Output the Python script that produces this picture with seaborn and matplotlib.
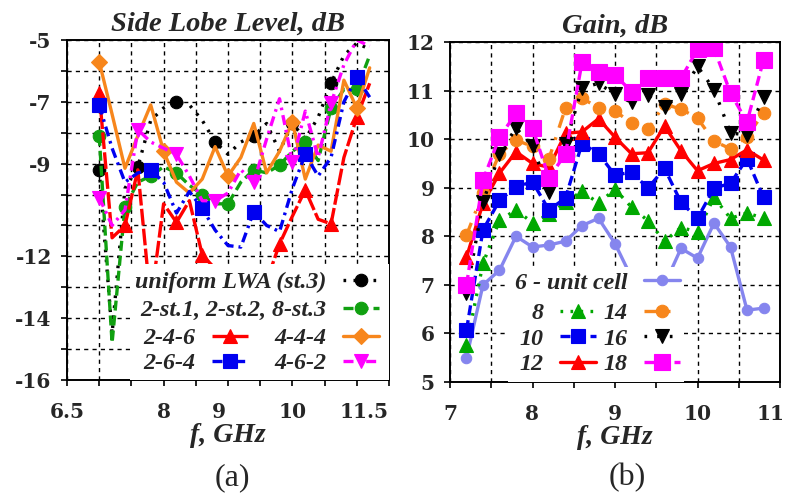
import numpy as np
import pandas as pd
import matplotlib
matplotlib.use("Agg")
import matplotlib.pyplot as plt
import matplotlib.transforms as mtrans
from matplotlib.patches import Rectangle
import seaborn as sns

# ---------------- data : (a) side lobe level ----------------
freq_a = [7.0, 7.2, 7.4, 7.6, 7.8, 8.0, 8.2, 8.4, 8.6, 8.8, 9.0,
          9.2, 9.4, 9.6, 9.8, 10.0, 10.2, 10.4, 10.6, 10.8, 11.0, 11.2]
sll_uniform = [-9.2, -14.5, -9.8, -9.1, -7.6, -7.2, -7.0, -7.1, -7.6, -8.3, -8.7,
               -8.3, -8.1, -7.7, -8.6, -7.7, -8.2, -7.5, -6.4, -5.5, -5.1, -5.3]
sll_2st = [-8.1, -14.8, -10.4, -9.6, -9.4, -9.1, -9.3, -9.7, -10.0, -10.3, -10.3,
           -9.6, -9.2, -9.3, -9.05, -8.6, -8.3, -8.9, -7.2, -6.6, -6.6, -5.5]
sll_246 = [-6.7, -11.4, -11.0, -9.2, -13.5, -10.3, -10.9, -10.2, -11.95, -12.4, -12.9,
           -12.9, -12.8, -12.8, -11.6, -10.7, -9.85, -10.8, -10.95, -8.8, -7.5, -6.4]
sll_444 = [-5.7, -7.4, -9.15, -8.1, -7.1, -8.6, -9.6, -9.95, -9.5, -8.45, -9.4,
           -8.8, -7.7, -9.3, -8.6, -7.65, -9.5, -8.4, -8.6, -6.3, -7.2, -5.9]
sll_264 = [-7.1, -8.5, -9.6, -9.3, -9.2, -9.6, -10.6, -9.9, -10.45, -11.15, -11.65,
           -11.7, -10.55, -11.0, -11.2, -9.8, -8.7, -9.4, -8.8, -7.0, -6.2, -6.85]
sll_462 = [-10.1, -11.0, -10.5, -7.9, -8.3, -8.5, -8.7, -9.4, -10.2, -10.2, -9.95,
           -9.2, -9.6, -8.2, -6.9, -8.95, -7.3, -8.8, -7.05, -5.8, -5.0, -5.2]
labels_a = ["uniform LWA (st.3)", "2-st.1, 2-st.2, 8-st.3", "2-4-6", "4-4-4", "2-6-4", "4-6-2"]

# ---------------- data : (b) gain ----------------
freq_b = [7.2, 7.4, 7.6, 7.8, 8.0, 8.2, 8.4, 8.6, 8.8, 9.0,
          9.2, 9.4, 9.6, 9.8, 10.0, 10.2, 10.4, 10.6, 10.8]
gain_6 = [5.5, 7.0, 7.3, 8.0, 7.78, 7.82, 7.9, 8.22, 8.37, 7.85,
          7.15, 6.9, 7.0, 7.75, 7.55, 8.27, 7.78, 6.48, 6.52]
gain_8 = [5.76, 7.44, 8.33, 8.54, 8.28, 8.45, 8.7, 8.93, 8.68, 8.97,
          8.6, 8.32, 7.9, 8.18, 8.09, 8.8, 8.37, 8.48, 8.37]
gain_10 = [6.07, 8.13, 8.74, 9.02, 9.12, 8.54, 8.79, 9.91, 9.7, 9.26,
           9.32, 8.99, 9.4, 8.7, 8.37, 8.99, 9.09, 9.6, 8.8]
gain_12 = [7.57, 8.68, 9.3, 9.74, 9.5, 9.42, 10.12, 10.15, 10.42, 10.04,
           9.7, 9.72, 10.27, 9.76, 9.35, 9.5, 9.58, 9.78, 9.57]
gain_14 = [8.02, 8.9, 9.7, 9.98, 9.85, 9.6, 10.64, 10.84, 10.65, 10.58,
           10.33, 10.2, 10.72, 10.62, 10.43, 9.96, 9.8, 10.05, 10.54]
gain_16 = [6.83, 8.7, 9.7, 10.23, 9.86, 8.92, 9.9, 11.05, 11.15, 10.92,
           10.76, 10.9, 10.66, 10.93, 11.5, 11.02, 10.13, 10.08, 10.87]
gain_18 = [7.0, 9.16, 10.04, 10.53, 10.23, 9.2, 9.7, 11.58, 11.38, 11.32,
           10.98, 11.25, 11.25, 11.25, 11.85, 11.87, 10.95, 10.35, 11.63]
labels_b = ["6 - unit cell", "8", "10", "12", "14", "16", "18"]

# ---------------- style ----------------
sns.set_theme(style="ticks")
plt.rcParams['font.family'] = ['Liberation Serif', 'DejaVu Serif']

fig = plt.figure(figsize=(7.87, 5.0), dpi=100)
axA = fig.add_axes([67 / 787, 1 - 380 / 500, 322 / 787, 340 / 500])
axB = fig.add_axes([450 / 787, 1 - 382 / 500, 330 / 787, 340 / 500])


def draw(ax, x, y, color, ls, marker, ms, markevery, label, lw=2.4):
    sns.lineplot(x=x, y=y, ax=ax, color=color, linestyle=ls, marker=marker,
                 markersize=ms, markevery=markevery, markeredgecolor=color,
                 markerfacecolor=color, markeredgewidth=0.8, linewidth=lw,
                 legend=False, sort=False, estimator=None, errorbar=None)
    line = ax.lines[-1]
    line.set_label(label)
    return line


BLACK = "#000000"
GREEN = "#10a010"
RED = "#ff0000"
ORANGE = "#f7861c"
BLUE = "#0000f0"
MAGENTA = "#ff00ff"
LAV = "#8585ee"

# (a)
hA = []
hA.append(draw(axA, freq_a, sll_uniform, BLACK, (0, (0.8, 2.2)), 'o', 9, slice(0, 19, 3), labels_a[0]))
hA.append(draw(axA, freq_a, sll_2st, GREEN, (0, (3, 1.5)), 'o', 9, slice(0, 21, 2), labels_a[1]))
hA.append(draw(axA, freq_a, sll_246, RED, (0, (5, 1)), '^', 9.5, slice(0, 21, 2), labels_a[2]))
hA.append(draw(axA, freq_a, sll_444, ORANGE, '-', 'D', 8, slice(0, 21, 5), labels_a[3]))
hA.append(draw(axA, freq_a, sll_264, BLUE, (0, (3, 1.5, 0.8, 1.5)), 's', 9.5, slice(0, 21, 4), labels_a[4]))
hA.append(draw(axA, freq_a, sll_462, MAGENTA, (0, (3, 1.5, 0.8, 1.5)), 'v', 10, slice(0, 19, 3), labels_a[5]))

# (b)
hB = []
hB.append(draw(axB, freq_b, gain_6, LAV, '-', 'o', 7.5, 1, labels_b[0]))
hB.append(draw(axB, freq_b, gain_8, "#00a800", (0, (0.8, 2.2)), '^', 10, 1, labels_b[1]))
hB.append(draw(axB, freq_b, gain_10, BLUE, (0, (3, 1.5)), 's', 10, 1, labels_b[2]))
hB.append(draw(axB, freq_b, gain_12, RED, '-', '^', 10, 1, labels_b[3]))
hB.append(draw(axB, freq_b, gain_14, ORANGE, (0, (4, 3, 0.8, 3)), 'o', 9, 1, labels_b[4]))
hB.append(draw(axB, freq_b, gain_16, BLACK, (0, (0.8, 3)), 'v', 10, 1, labels_b[5]))
hB.append(draw(axB, freq_b, gain_18, MAGENTA, (0, (3, 1.5)), 's', 11, 1, labels_b[6]))

TICK = dict(fontsize=14.5, fontweight='bold', fontfamily='DejaVu Serif')
BI = dict(fontweight='bold', fontstyle='italic')

# axes (a)
axA.set_xlim(6.5, 11.5)
axA.set_ylim(-16, -5)
xt_a = np.arange(6.5, 11.51, 0.5)
xl_a = {6.5: '6.5', 8.0: '8', 9.0: '9', 10.0: '10', 11.5: '11.5'}
axA.set_xticks(xt_a, labels=[xl_a.get(round(v, 1), '') for v in xt_a], **TICK)
yt_a = np.arange(-16, -4, 1)
yl_a = {-5, -7, -9, -12, -14, -16}
axA.set_yticks(yt_a, labels=[('-%d' % -v) if v in yl_a else '' for v in yt_a], **TICK)

# axes (b)
axB.set_xlim(7, 11)
axB.set_ylim(5, 12)
xt_b = np.arange(7, 11.01, 0.5)
axB.set_xticks(xt_b, labels=[('%d' % v) if float(v).is_integer() else '' for v in xt_b], **TICK)
axB.set_yticks(np.arange(5, 12.01, 1), labels=['%d' % v for v in range(5, 13)], **TICK)

for ax in (axA, axB):
    ax.set_axisbelow(True)
    ax.grid(True, color='black', linestyle=(0, (3, 3)), linewidth=1.0)
    ax.tick_params(axis='both', direction='out', length=4, width=1.2, color='black')
    ax.tick_params(axis='x', pad=11.5)
    ax.tick_params(axis='y', pad=7)
    for sp in ax.spines.values():
        sp.set_color('black')
        sp.set_linewidth(1.4)
    ax.set_xlabel('f, GHz', fontsize=20, **BI)
    ax.xaxis.set_label_coords(0.5, -0.125)
    ax.set_ylabel('')

# nudge a few tick labels like the reference
axA.get_xticklabels()[-1].set_horizontalalignment('right')
lab9 = axA.get_xticklabels()[5]
lab9.set_transform(lab9.get_transform() + mtrans.ScaledTranslation(-0.09, 0, fig.dpi_scale_trans))
lab11 = axB.get_xticklabels()[-1]
lab11.set_transform(lab11.get_transform() + mtrans.ScaledTranslation(-0.09, 0, fig.dpi_scale_trans))

axA.set_title('Side Lobe Level, dB', fontsize=20.5, pad=6.5, **BI)
axB.set_title('Gain, dB', fontsize=20.5, pad=7, **BI)

# white legend backgrounds (cover the curves like the reference legend box)
axA.add_patch(Rectangle((0.195, 0.0), 0.805, 0.341, transform=axA.transAxes,
                        facecolor='white', edgecolor='none', zorder=4.5))
axB.add_patch(Rectangle((0.176, 0.0), 0.533, 0.338, transform=axB.transAxes,
                        facecolor='white', edgecolor='none', zorder=4.5))

# legends
LEGFS = 17.3


def legkw(colsp, lsp=0.15):
    return dict(markerfirst=False, frameon=False, handlelength=1.5, handletextpad=0.7,
                columnspacing=colsp, labelspacing=lsp, borderpad=0.08, borderaxespad=0.0,
                prop={'size': LEGFS, 'weight': 'bold', 'style': 'italic'})


legA1 = axA.legend(handles=hA[:2], loc='lower right', bbox_to_anchor=(0.975, 0.168), ncol=1,
                   **legkw(1.0, 0.25))
axA.add_artist(legA1)
legA2 = axA.legend(handles=[hA[2], hA[4], hA[3], hA[5]], loc='upper right',
                   bbox_to_anchor=(0.975, 0.161), ncol=2, **legkw(1.1))

legB1 = axB.legend(handles=hB[:1], loc='lower right', bbox_to_anchor=(0.703, 0.2545), ncol=1, **legkw(0.3))
axB.add_artist(legB1)
legB2 = axB.legend(handles=hB[1:], loc='upper right', bbox_to_anchor=(0.703, 0.2395), ncol=2, **legkw(0.3))

fig.text(232 / 787, 1 - 478 / 500, '(a)', ha='center', va='center', fontsize=23)
fig.text(627 / 787, 1 - 478 / 500, '(b)', ha='center', va='center', fontsize=23)

fig.savefig('out.png', dpi=100)
